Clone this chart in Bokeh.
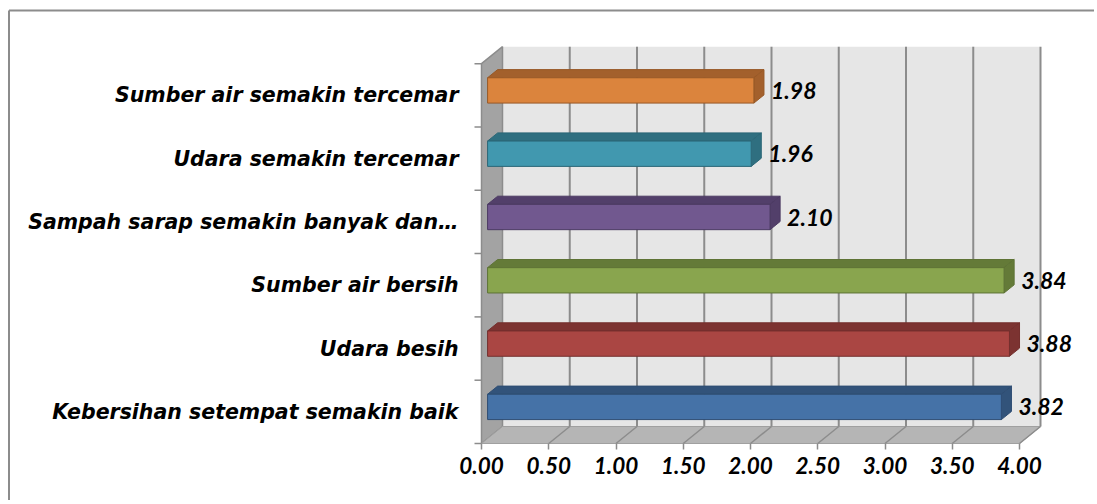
from bokeh.plotting import figure
from bokeh.models import FixedTicker, NumeralTickFormatter, ColumnDataSource, Range1d
from bokeh.core.properties import value
from bokeh.embed import file_html
from bokeh.resources import INLINE

# ---- data (bottom to top) ----
categories = [
    "Kebersihan setempat semakin baik",
    "Udara besih",
    "Sumber air bersih",
    "Sampah sarap semakin banyak dan\u2026",
    "Udara semakin tercemar",
    "Sumber air semakin tercemar",
]
values = [3.82, 3.88, 3.84, 2.10, 1.96, 1.98]
value_labels = ["3.82", "3.88", "3.84", "2.10", "1.96", "1.98"]
x_ticks = [0, 0.5, 1, 1.5, 2, 2.5, 3, 3.5, 4]

front_colors = ["#4572A7", "#AA4643", "#89A54E", "#71588F", "#4198AF", "#DB843D"]
dark_colors = ["#32537A", "#7C3331", "#647A38", "#523F6A", "#2F6F80", "#A3602C"]
edge_colors = ["#2E4D73", "#742F2D", "#5E7335", "#4C3A63", "#2B6777", "#985927"]

# ---- layout constants (pixels -> data) ----
PX_X = 134.5          # pixels per x unit
PX_Y = 63.3           # pixels per category
W, H = 1094, 500
X0_PAGE = 481         # page x of value 0 on the front edge
Y0_PAGE = 443         # page y of the front floor edge
xs = -X0_PAGE / PX_X
xe = xs + W / PX_X
ys = -(H - Y0_PAGE) / PX_Y
ye = ys + H / PX_Y

DX = 21 / PX_X        # depth offset
DY = 17 / PX_Y
XMAX = 4.0
N = len(categories)

p = figure(width=W, height=H, output_backend="svg", toolbar_location=None,
           x_range=Range1d(xs, xe), y_range=Range1d(ys, ye),
           min_border_left=0, min_border_right=0, min_border_top=0,
           min_border_bottom=0, y_axis_location=None)
p.grid.visible = False
p.outline_line_color = None
p.background_fill_color = "white"
p.border_fill_color = "white"

# walls
p.patch([DX, XMAX + DX, XMAX + DX, DX], [DY, DY, N + DY, N + DY],
        fill_color="#E6E6E6", line_color=None)
p.patch([0, DX, DX, 0], [0, DY, N + DY, N],
        fill_color="#A3A3A3", line_color="#8C8C8C", line_width=1.5)
p.patch([0, XMAX, XMAX + DX, DX], [0, 0, DY, DY],
        fill_color="#B5B5B5", line_color="#A0A0A0", line_width=1)

# gridlines
for t in x_ticks[1:]:
    p.line([t + DX, t + DX], [DY, N + DY], line_color="#8C8C8C", line_width=2)
    p.line([t, t + DX], [0, DY], line_color="#8C8C8C", line_width=1.5)

# y-axis ticks on the left wall front edge
for i in range(N + 1):
    p.line([-7 / PX_X, 0], [i, i], line_color="#8C8C8C", line_width=1.5)

# bars
FB, BB = 0.29, 0.77
BH = 0.4
for i, (v, fc, dc, ec) in enumerate(zip(values, front_colors, dark_colors, edge_colors)):
    c = i + 0.5
    x0f, x1f = FB * DX, v + FB * DX
    x0b, x1b = BB * DX, v + BB * DX
    yf0, yf1 = c + FB * DY - BH / 2, c + FB * DY + BH / 2
    yb1 = c + BB * DY + BH / 2
    yb0 = c + BB * DY - BH / 2
    p.patch([x0f, x1f, x1b, x0b], [yf1, yf1, yb1, yb1], fill_color=dc, line_color=ec, line_width=1)
    p.patch([x1f, x1b, x1b, x1f], [yf0, yb0, yb1, yf1], fill_color=dc, line_color=ec, line_width=1)
    p.patch([x0f, x1f, x1f, x0f], [yf0, yf0, yf1, yf1], fill_color=fc, line_color=ec, line_width=1)

# value labels
lab_src = ColumnDataSource(dict(
    x=[v + BB * DX + 7 / PX_X for v in values],
    y=[i + 0.5 + FB * DY for i in range(N)],
    t=value_labels))
p.text("x", "y", text="t", source=lab_src, text_font=value("Lato"),
       text_font_style="bold italic", text_font_size="23px", text_color="black",
       text_baseline="middle", text_align="left")

# category labels
cat_src = ColumnDataSource(dict(
    x=[-23 / PX_X] * N, y=[i + 0.5 for i in range(N)], t=categories))
p.text("x", "y", text="t", source=cat_src, text_font=value("DejaVu Sans"),
       text_font_style="bold italic", text_font_size="20.5px", text_color="black",
       text_baseline="middle", text_align="right")

# outer border (left and top)
bx = (8.5 - X0_PAGE) / PX_X
by = (Y0_PAGE - 10) / PX_Y
p.line([bx, bx], [ys - 1, by], line_color="#8C8C8C", line_width=2)
p.line([bx, xe + 1], [by, by], line_color="#8C8C8C", line_width=2)

# x axis drawn at the front floor edge
ax = p.xaxis[0]
ax.fixed_location = 0
ax.ticker = FixedTicker(ticks=x_ticks)
ax.formatter = NumeralTickFormatter(format="0.00")
ax.axis_line_color = None
ax.major_tick_in = 0
ax.major_tick_out = 6
ax.major_tick_line_color = "#8C8C8C"
ax.major_tick_line_width = 1.5
ax.minor_tick_line_color = None
ax.major_label_text_font = "Lato"
ax.major_label_text_font_style = "bold italic"
ax.major_label_text_font_size = "22.5px"
ax.major_label_text_color = "black"
ax.major_label_standoff = 7

open("out.html", "w").write(file_html(p, INLINE))
